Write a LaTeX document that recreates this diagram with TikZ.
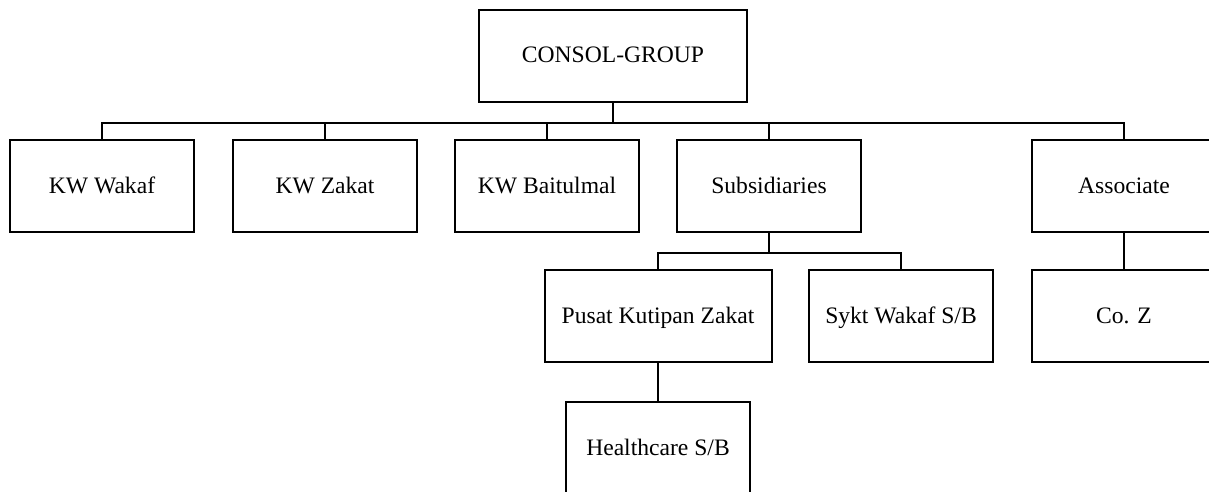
\documentclass[tikz,border=0pt]{standalone}
\usepackage{fontspec}
\setmainfont{Liberation Serif}
\begin{document}
\begin{tikzpicture}[x=1pt,y=-1pt,
  unit/.style={draw=black, line width=2pt, rectangle, inner sep=0pt,
    minimum width=184pt, minimum height=92pt,
    text height=18.5pt, text depth=4.5pt,
    font=\fontsize{23.6}{28}\selectfont},
  link/.style={draw=black, line width=2pt}]
  \useasboundingbox (0,0) rectangle (1209,491);
  \clip (0,0) rectangle (1209,491);

  % group head
  \node[unit, minimum width=268pt] (top) at (613,55.5) {CONSOL-GROUP};

  % first level
  \node[unit] (wakaf)   at (102,186)  {KW Wakaf};
  \node[unit] (zakat)   at (325,186)  {KW Zakat};
  \node[unit] (baitul)  at (547,186)  {KW Baitulmal};
  \node[unit] (subs)    at (769,186)  {Subsidiaries};
  \node[unit] (assoc)   at (1124,186) {Associate};

  % second level
  \node[unit, minimum width=227pt] (pusat) at (658,316) {Pusat Kutipan Zakat};
  \node[unit] (sykt)    at (901,316)  {Sykt Wakaf S/B};
  \node[unit] (coz)     at (1124,316) {Co. Z};

  % third level
  \node[unit] (health)  at (658,448)  {Healthcare S/B};

  % connectors
  \foreach \c in {wakaf,zakat,baitul,subs,assoc}
    \draw[link] (top.south) -- ++(0,20) -| (\c.north);
  \foreach \c in {pusat,sykt}
    \draw[link] (subs.south) -- ++(0,20) -| (\c.north);
  \draw[link] (assoc.south) -- (coz.north);
  \draw[link] (pusat.south) -- (health.north);
\end{tikzpicture}
\end{document}
